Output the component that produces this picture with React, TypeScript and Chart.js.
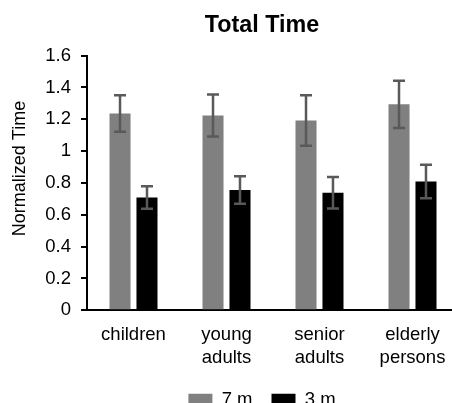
import React, { useEffect, useRef } from "react";
import { Chart, registerables } from "chart.js";

Chart.register(...registerables);

const categories = [["children"], ["young", "adults"], ["senior", "adults"], ["elderly", "persons"]];
const seriesNames = ["7 m", "3 m"];
const values7m = [1.237, 1.224, 1.193, 1.294];
const errors7m = [0.115, 0.132, 0.159, 0.149];
const values3m = [0.709, 0.756, 0.738, 0.809];
const errors3m = [0.071, 0.087, 0.099, 0.105];
const yTickLabels = ["0", "0.2", "0.4", "0.6", "0.8", "1", "1.2", "1.4", "1.6"];
const chartTitle = "Total Time";
const yAxisTitle = "Normalized Time";

const FONT = "'Liberation Sans', Arial, sans-serif";

const errorBarPlugin = {
  id: "errorBars",
  afterDatasetsDraw(chart: any) {
    const ctx = chart.ctx;
    const yScale = chart.scales.y;
    const errs = [errors7m, errors3m];
    chart.data.datasets.forEach((ds: any, i: number) => {
      const meta = chart.getDatasetMeta(i);
      meta.data.forEach((bar: any, j: number) => {
        const v = ds.data[j];
        const e = errs[i][j];
        const top = yScale.getPixelForValue(v + e);
        const bot = yScale.getPixelForValue(v - e);
        const x = bar.x;
        const cap = 6;
        ctx.save();
        ctx.strokeStyle = "#595959";
        ctx.lineWidth = 2.5;
        ctx.beginPath();
        ctx.moveTo(x, top);
        ctx.lineTo(x, bot);
        ctx.moveTo(x - cap, top);
        ctx.lineTo(x + cap, top);
        ctx.moveTo(x - cap, bot);
        ctx.lineTo(x + cap, bot);
        ctx.stroke();
        ctx.restore();
      });
    });
  },
};

const yTitlePlugin = {
  id: "yTitle",
  afterDraw(chart: any) {
    const ctx = chart.ctx;
    ctx.save();
    ctx.translate(20, 168.5);
    ctx.rotate(-Math.PI / 2);
    ctx.font = `18px ${FONT}`;
    ctx.fillStyle = "#000";
    ctx.textAlign = "center";
    ctx.textBaseline = "middle";
    ctx.fillText(yAxisTitle, 0, 0);
    ctx.restore();
  },
};

export default function App() {
  const canvasRef = useRef<HTMLCanvasElement | null>(null);

  useEffect(() => {
    if (!canvasRef.current) return;
    const chart = new Chart(canvasRef.current, {
      type: "bar",
      data: {
        labels: categories,
        datasets: [
          {
            label: seriesNames[0],
            data: values7m,
            backgroundColor: "#808080",
            borderWidth: 0,
            barPercentage: 0.78,
            categoryPercentage: 0.58,
          },
          {
            label: seriesNames[1],
            data: values3m,
            backgroundColor: "#000000",
            borderWidth: 0,
            barPercentage: 0.78,
            categoryPercentage: 0.58,
          },
        ],
      },
      options: {
        responsive: false,
        animation: false,
        devicePixelRatio: 1,
        layout: { padding: 0 },
        plugins: {
          title: {
            display: true,
            text: chartTitle,
            color: "#000",
            font: { family: FONT, size: 23.3, weight: "bold" },
            padding: { top: 12, bottom: 15.7 },
          },
          legend: {
            display: true,
            position: "bottom",
            labels: {
              color: "#000",
              font: { family: FONT, size: 18.5 },
              boxWidth: 24,
              boxHeight: 12,
              padding: 19,
            },
          },
          tooltip: { enabled: false },
        },
        scales: {
          x: {
            grid: { display: false },
            border: { display: true, color: "#000", width: 2 },
            ticks: {
              color: "#000",
              font: { family: FONT, size: 18.5 },
              padding: 6,
              maxRotation: 0,
              autoSkip: false,
            },
            afterFit: (s: any) => {
              s.height = 61.2;
            },
          },
          y: {
            min: 0,
            max: 1.6,
            grid: {
              display: true,
              drawOnChartArea: false,
              drawTicks: true,
              tickLength: 6,
              color: "#000",
              lineWidth: 2,
            },
            border: { display: true, color: "#000", width: 2 },
            ticks: {
              stepSize: 0.2,
              autoSkip: false,
              color: "#000",
              font: { family: FONT, size: 18.5 },
              padding: 10,
              callback: (value: any) => {
                const i = Math.round(Number(value) / 0.2);
                return yTickLabels[i] ?? "";
              },
            },
            afterFit: (s: any) => {
              s.width = 87;
            },
          },
          yRightSpace: {
            type: "linear",
            position: "right",
            display: true,
            grid: { display: false },
            border: { display: false },
            ticks: { display: false },
            afterFit: (s: any) => {
              s.width = 65;
            },
          },
        },
      },
      plugins: [errorBarPlugin, yTitlePlugin],
    } as any);
    return () => chart.destroy();
  }, []);

  return (
    <div
      style={{
        position: "fixed",
        left: 0,
        top: 0,
        width: 452,
        height: 403,
        overflow: "hidden",
        background: "#fff",
      }}
    >
      <canvas ref={canvasRef} width={524} height={419} style={{ display: "block" }} />
    </div>
  );
}
